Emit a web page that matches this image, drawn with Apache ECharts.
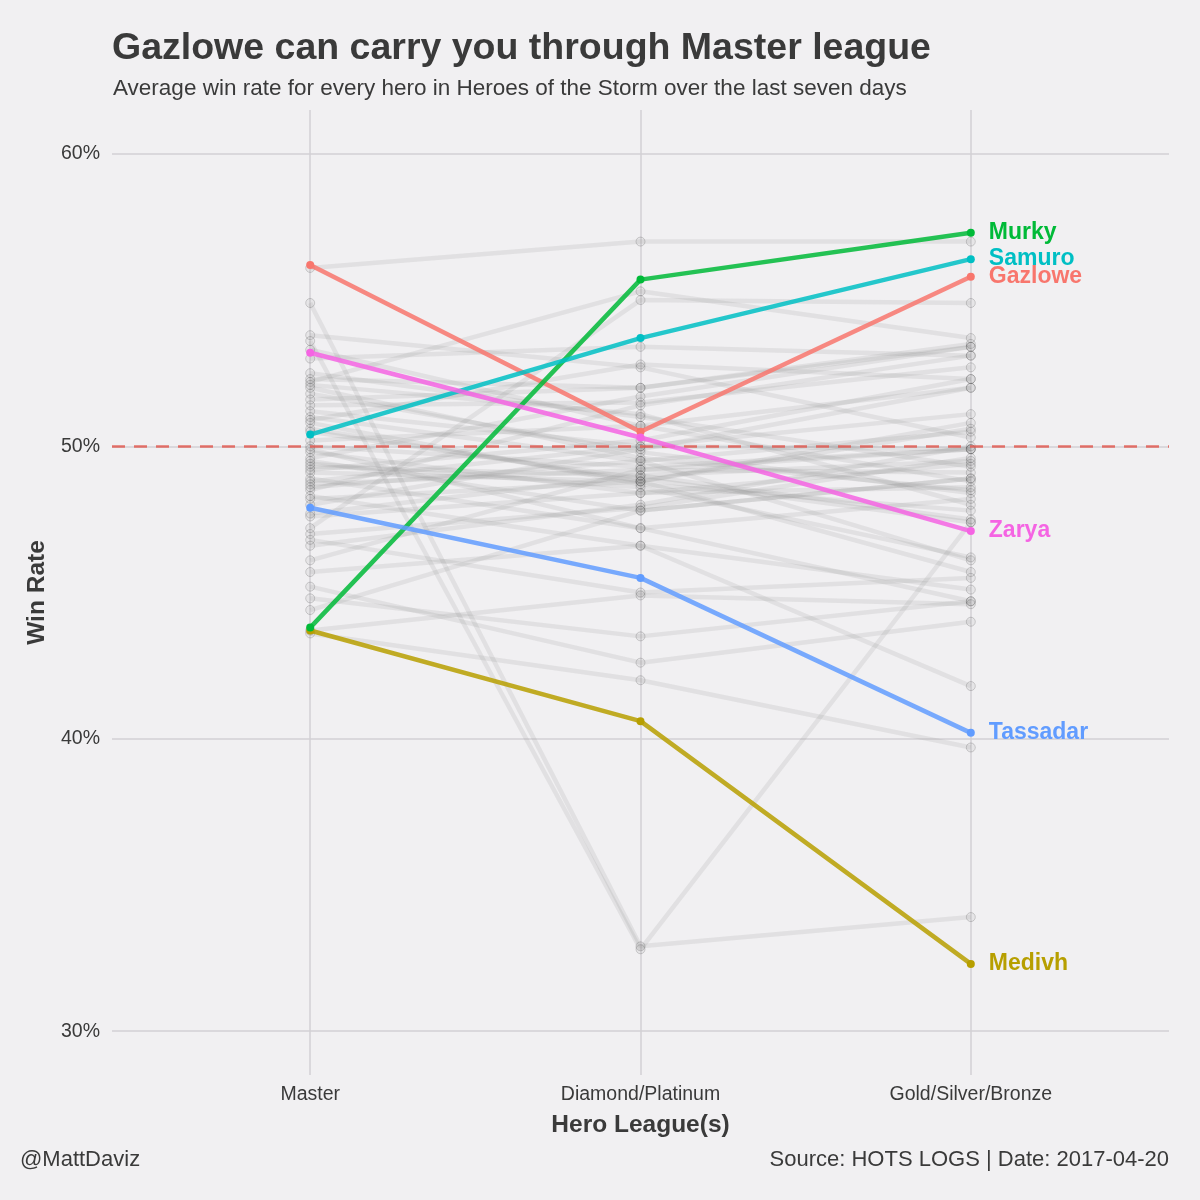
<!DOCTYPE html>
<html>
<head>
<meta charset="utf-8">
<title>Gazlowe can carry you through Master league</title>
<script src="https://cdn.jsdelivr.net/npm/echarts@6/dist/echarts.min.js"></script>
<style>
  html, body { margin: 0; padding: 0; background: #f1f0f2; }
  #chart { width: 1200px; height: 1200px; }
</style>
</head>
<body>
<div id="chart"></div>
<script>
// x categories and y ticks
var leagues = ['Master', 'Diamond/Platinum', 'Gold/Silver/Bronze'];
var yTicks = [30, 40, 50, 60];

// highlighted heroes, win rate % per league
var heroNames = ['Gazlowe', 'Medivh', 'Murky', 'Samuro', 'Tassadar', 'Zarya'];
var gazlowe  = [56.2, 50.5, 55.8];
var medivh   = [43.7, 40.6, 32.3];
var murky    = [43.8, 55.7, 57.3];
var samuro   = [50.4, 53.7, 56.4];
var tassadar = [47.9, 45.5, 40.2];
var zarya    = [53.2, 50.3, 47.1];

// every other hero (Master, Diamond/Platinum, Gold/Silver/Bronze)
var otherHeroes = [
  [56.1, 57.0, 57.0], [54.9, 32.9, 33.9], [53.6, 32.8, 47.4], [52.2, 55.3, 53.7],
  [53.8, 52.7, 50.3], [53.0, 53.4, 53.1], [52.3, 52.0, 53.4], [52.1, 51.1, 48.0],
  [51.8, 49.8, 48.4], [51.4, 51.5, 52.7], [51.0, 49.5, 46.1], [50.9, 52.8, 52.3],
  [50.6, 48.8, 45.7], [50.2, 50.7, 52.0], [50.0, 49.3, 49.9], [49.8, 48.4, 48.6],
  [49.6, 51.7, 53.4], [49.5, 47.8, 48.9], [49.3, 49.0, 49.5], [49.1, 48.8, 50.6],
  [48.9, 47.2, 44.7], [48.8, 50.0, 51.1], [48.7, 49.2, 49.1], [48.5, 51.4, 53.1],
  [48.3, 46.6, 45.1], [48.2, 48.8, 50.8], [47.7, 49.0, 47.5], [47.6, 48.4, 49.4],
  [47.2, 55.0, 54.9], [46.6, 48.0, 50.0], [46.1, 49.2, 49.9], [45.7, 46.6, 41.8],
  [45.2, 42.6, 44.0], [44.8, 43.5, 44.7], [44.4, 47.8, 48.9], [43.6, 42.0, 39.7],
  [43.7, 44.9, 44.6], [52.0, 49.6, 48.5], [51.2, 50.0, 49.9], [50.5, 48.9, 47.4],
  [49.9, 47.2, 48.2], [49.2, 50.2, 52.3], [48.6, 49.5, 50.5], [52.5, 51.0, 49.3],
  [50.8, 48.7, 47.8], [49.4, 48.6, 46.2], [51.6, 52.0, 53.5], [48.0, 49.9, 52.0],
  [47.0, 47.9, 49.6], [53.3, 50.7, 48.8], [46.8, 45.0, 45.5]
];

(function(){

	var textColor = '#3a3a3a';
	var font = '"Liberation Sans", Arial, sans-serif';
	var heroColors = ['#F8766D', '#B79F00', '#00BA38', '#00BFC4', '#619CFF', '#F564E3'];
	var heroRates = [gazlowe, medivh, murky, samuro, tassadar, zarya];

	// [1,2,3] positions on the x value axis
	var toPoints = function(rates){
		var result = [];
		for(var i = 0, j = rates.length; i < j; i++){
			result.push([i + 1, rates[i]]);
		}
		return result;
	}

	var series = [];

	for(var i = 0, j = otherHeroes.length; i < j; i++){
		series.push({
			type: 'line',
			data: toPoints(otherHeroes[i]),
			symbol: 'circle',
			symbolSize: 9,
			silent: true,
			z: 2,
			lineStyle: { color: 'rgba(140,140,140,0.16)', width: 4.5 },
			itemStyle: { color: 'rgba(140,140,140,0.10)', borderColor: 'rgba(70,70,70,0.22)', borderWidth: 1 }
		});
	}

	// 50% reference line
	series.push({
		type: 'line',
		data: [],
		silent: true,
		markLine: {
			silent: true,
			symbol: 'none',
			label: { show: false },
			lineStyle: { color: '#e05a52', opacity: 0.85, width: 2.5, type: [13, 9] },
			data: [{ yAxis: 50 }]
		},
		z: 3
	});

	for(var k = 0; k < heroNames.length; k++){
		var pts = toPoints(heroRates[k]);
		var data = [];
		for(var p = 0; p < pts.length; p++){
			var item = { value: pts[p] };
			if(p === pts.length - 1){
				item.label = {
					show: true,
					position: 'right',
					distance: 14,
					formatter: heroNames[k],
					color: heroColors[k],
					fontFamily: font,
					fontWeight: 'bold',
					fontSize: 23
				};
			}
			data.push(item);
		}
		series.push({
			type: 'line',
			name: heroNames[k],
			data: data,
			symbol: 'circle',
			symbolSize: 8,
			silent: true,
			z: 5,
			lineStyle: { color: heroColors[k], width: 4.5, opacity: 0.85 },
			itemStyle: { color: heroColors[k] }
		});
	}

	var option = {
		backgroundColor: '#f1f0f2',
		animation: false,
		title: [{
			text: 'Gazlowe can carry you through Master league',
			left: 107,
			top: 25,
			textStyle: { fontFamily: font, fontSize: 37.5, fontWeight: 'bold', color: textColor }
		}, {
			text: 'Average win rate for every hero in Heroes of the Storm over the last seven days',
			left: 108,
			top: 72,
			textStyle: { fontFamily: font, fontSize: 22.5, fontWeight: 'normal', color: textColor }
		}, {
			text: '@MattDaviz',
			left: 15,
			top: 1144,
			textStyle: { fontFamily: font, fontSize: 22, fontWeight: 'normal', color: textColor }
		}, {
			text: 'Source: HOTS LOGS | Date: 2017-04-20',
			right: 26,
			top: 1144,
			textStyle: { fontFamily: font, fontSize: 22, fontWeight: 'normal', color: textColor }
		}],
		grid: { left: 112, right: 31, top: 110, bottom: 125 },
		xAxis: {
			type: 'value',
			min: 0.4,
			max: 3.6,
			name: 'Hero League(s)',
			nameLocation: 'middle',
			nameGap: 38,
			nameTextStyle: { fontFamily: font, fontSize: 24.5, fontWeight: 'bold', color: textColor },
			axisLine: { show: false },
			axisTick: { show: false, customValues: [1, 2, 3] },
			axisLabel: {
				customValues: [1, 2, 3],
				margin: 10,
				fontFamily: font,
				fontSize: 19.5,
				color: textColor,
				formatter: function(v){ return leagues[Math.round(v) - 1]; }
			},
			splitLine: { show: true, lineStyle: { color: '#d2d1d4', width: 1.5 } }
		},
		yAxis: {
			type: 'value',
			min: 28.5,
			max: 61.5,
			name: 'Win Rate',
			nameLocation: 'middle',
			nameGap: 51,
			nameTextStyle: { fontFamily: font, fontSize: 24.5, fontWeight: 'bold', color: textColor },
			axisLine: { show: false },
			axisTick: { show: false, customValues: yTicks },
			axisLabel: {
				customValues: yTicks,
				margin: 12,
				fontFamily: font,
				fontSize: 19.5,
				color: textColor,
				formatter: function(v){ return v + '%'; }
			},
			splitLine: { show: true, lineStyle: { color: '#d2d1d4', width: 1.5 } }
		},
		series: series
	};

	var myChart = echarts.init(document.getElementById('chart'));
	myChart.setOption(option);

})();
</script>
</body>
</html>
